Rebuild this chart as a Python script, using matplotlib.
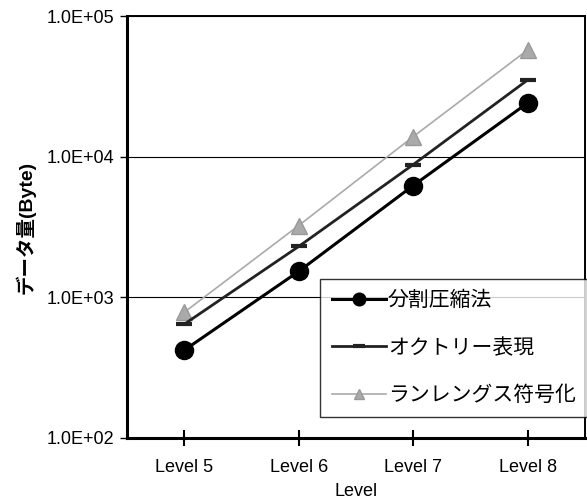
import math
import matplotlib.pyplot as plt
from matplotlib.ticker import FuncFormatter

plt.rcParams['font.family'] = ['Liberation Sans', 'Noto Sans CJK JP', 'DejaVu Sans']

# データ
levels = ['Level 5', 'Level 6', 'Level 7', 'Level 8']
split_comp = [421, 1530, 6230, 24100]      # 分割圧縮法
octree = [644, 2300, 8780, 35100]          # オクトリー表現
run_length = [783, 3240, 13870, 57400]     # ランレングス符号化

fig = plt.figure(figsize=(5.87, 5.0), dpi=100)
ax = fig.add_axes([0.2164, 0.124, 0.780, 0.844])

x = range(len(levels))
ax.plot(x, split_comp, color='black', lw=2.2, marker='o', markersize=13,
        label='分割圧縮法', zorder=4)
ax.plot(x, octree, color='#222222', lw=2.0, marker='_', markersize=12,
        markeredgewidth=3, label='オクトリー表現', zorder=3)
ax.plot(x, run_length, color='#aaaaaa', lw=1.2, marker='^', markersize=11,
        markeredgecolor='#999999', label='ランレングス符号化', zorder=2)

ax.set_yscale('log')
ax.set_ylim(1e2, 1e5)
ax.set_xlim(-0.5, 3.5)
ax.set_xticks(list(x))
ax.set_xticklabels(levels)
ax.yaxis.set_major_formatter(FuncFormatter(lambda v, p: '1.0E+%02d' % round(math.log10(v))))
ax.yaxis.set_minor_locator(plt.NullLocator())
ax.grid(axis='y', which='major', color='black', lw=0.8)
ax.set_axisbelow(True)

ax.tick_params(axis='x', direction='inout', length=12, width=1.5, labelsize=13, pad=9)
ax.tick_params(axis='y', direction='out', length=5, width=1, labelsize=13, pad=4)
for s in ['left', 'bottom']:
    ax.spines[s].set_linewidth(2.2)
for s in ['top', 'right']:
    ax.spines[s].set_linewidth(1.4)

ax.set_xlabel('Level', fontsize=13, labelpad=5)
ax.set_ylabel('データ量(Byte)', fontsize=14, fontweight='bold', labelpad=8)

leg = ax.legend(loc='lower right', bbox_to_anchor=(1.005, 0.05), fontsize=15,
                frameon=True, fancybox=False, edgecolor='black',
                borderpad=0.55, labelspacing=1.35, handlelength=2.6,
                handletextpad=0.1, borderaxespad=0, markerscale=0.7)
leg.get_frame().set_linewidth(1.0)

fig.savefig('out.png', dpi=100)
